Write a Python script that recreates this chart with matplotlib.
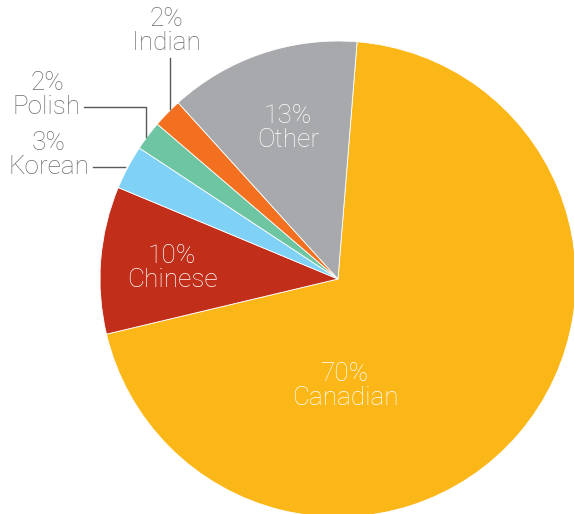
import matplotlib.pyplot as plt
import numpy as np

# datos del gráfico
grupos = ['Canadian', 'Chinese', 'Korean', 'Polish', 'Indian', 'Other']
porcentajes = [70, 10, 3, 2, 2, 13]
colores = ['#FBB617', '#C12E1A', '#80D1F6', '#6DC5A1', '#F37021', '#A7A9AC']

W, H = 574, 514
fig = plt.figure(figsize=(W / 100, H / 100), dpi=100)
ax = fig.add_axes([0, 0, 1, 1])

# centro y radio en pixeles (y hacia abajo)
cx, cy, r = 338, 279, 238

# pie dibujado en coordenadas de pixeles: y invertida -> sentido se invierte
ax.pie(porcentajes, colors=colores, startangle=-85.4, counterclock=True,
       center=(cx, cy), radius=r, frame=True,
       wedgeprops=dict(linewidth=0.6, edgecolor='white'))
ax.set_xlim(0, W)
ax.set_ylim(H, 0)
ax.set_aspect('equal')
ax.axis('off')

fuente = dict(family=['Roboto', 'DejaVu Sans'], fontweight='light', fontsize=18.8,
              linespacing=0.98)
gris = '#6D6E71'
linea = '#58595B'

def etiqueta(x, y, pct, nombre, color):
    ax.text(x, y, f'{pct}%\n{nombre}', ha='center', va='center',
            multialignment='center', color=color, **fuente)

# etiquetas internas
etiqueta(345, 386, porcentajes[0], grupos[0], 'white')
etiqueta(172, 268, porcentajes[1], grupos[1], 'white')
etiqueta(288, 128, porcentajes[5], grupos[5], 'white')

# etiquetas externas con líneas guía
etiqueta(49, 155, porcentajes[2], grupos[2], gris)
ax.plot([93, 125], [167, 167], color=linea, lw=1)

etiqueta(47, 95, porcentajes[3], grupos[3], gris)
ax.plot([84, 146, 146], [107, 107, 137], color=linea, lw=1)

etiqueta(166, 31, porcentajes[4], grupos[4], gris)
ax.plot([170, 170], [58, 109], color=linea, lw=1)

fig.savefig('out.png', dpi=100)
